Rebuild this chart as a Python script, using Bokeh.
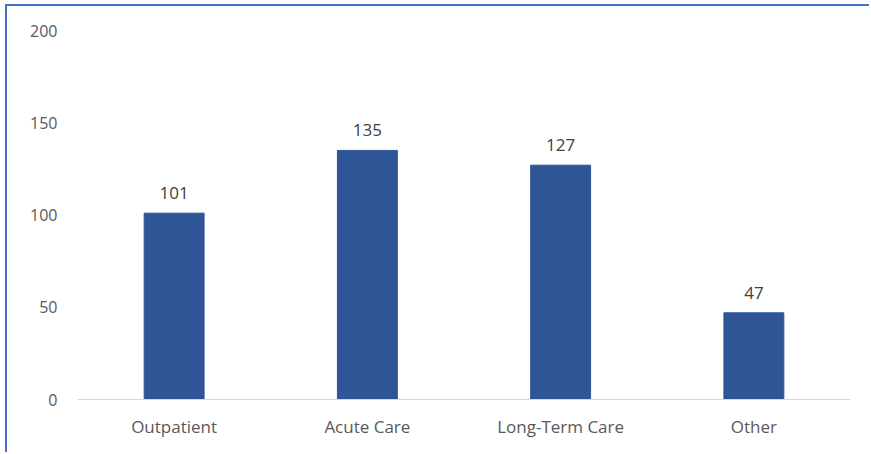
from bokeh.plotting import figure
from bokeh.models import ColumnDataSource, FactorRange, Range1d, FixedTicker
from bokeh.core.properties import value
from bokeh.embed import file_html
from bokeh.resources import INLINE

categories = ["Outpatient", "Acute Care", "Long-Term Care", "Other"]
counts = [101, 135, 127, 47]
y_ticks = [0, 50, 100, 150, 200]

src = ColumnDataSource(dict(cat=categories, val=counts, lab=[str(v) for v in counts]))

FONT = "Open Sans"

p = figure(width=864, height=448, x_range=FactorRange(*categories, range_padding=0),
           y_range=Range1d(0, 200), output_backend="svg", toolbar_location=None,
           min_border_left=70, min_border_right=21, min_border_top=24, min_border_bottom=55)
p.margin = (4, 0, 0, 5)
p.styles = {"border-left": "2px solid #4472C4", "border-top": "2px solid #4472C4"}
p.outline_line_color = None
p.xgrid.grid_line_color = None
p.ygrid.grid_line_color = None

p.vbar(x="cat", top="val", width=0.31, source=src, color="#2F5597")
p.text(x="cat", y="val", text="lab", source=src, text_align="center", text_baseline="bottom",
       y_offset=-14, text_font=value(FONT), text_font_size="17px", text_color="#404040")

p.yaxis.ticker = FixedTicker(ticks=y_ticks)
p.yaxis.axis_line_color = None
p.yaxis.major_tick_line_color = None
p.yaxis.minor_tick_line_color = None
p.yaxis.major_label_standoff = 14
p.yaxis.major_label_text_font = FONT
p.yaxis.major_label_text_font_size = "16px"
p.yaxis.major_label_text_color = "#595959"

p.xaxis.axis_line_color = "#D9D9D9"
p.xaxis.axis_line_width = 1
p.xaxis.major_tick_line_color = None
p.xaxis.minor_tick_line_color = None
p.xaxis.major_label_standoff = 9
p.xaxis.major_label_text_font = FONT
p.xaxis.major_label_text_font_size = "17px"
p.xaxis.major_label_text_color = "#595959"

open("out.html", "w").write(file_html(p, INLINE))
